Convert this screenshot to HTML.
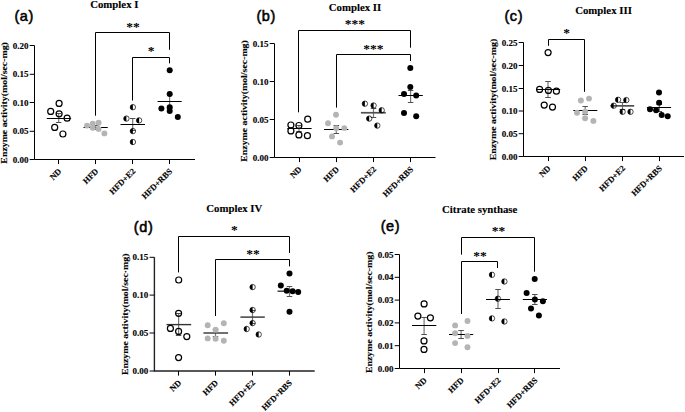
<!DOCTYPE html>
<html><head><meta charset="utf-8"><style>
html,body{margin:0;padding:0;background:#fff;}
body{width:685px;height:412px;overflow:hidden;}
svg{display:block;}
.tk{font-family:"Liberation Serif", serif;font-weight:bold;font-size:9px;text-anchor:end;stroke:#000;stroke-width:0.12px;}
.cat{font-family:"Liberation Serif", serif;font-weight:bold;font-size:8.5px;text-anchor:end;stroke:#000;stroke-width:0.15px;}
.ttl{font-family:"Liberation Serif", serif;font-weight:bold;font-size:10.8px;text-anchor:middle;stroke:#000;stroke-width:0.12px;}
.let{font-family:"Liberation Sans", sans-serif;font-weight:normal;font-size:14.5px;stroke:#000;stroke-width:0.55px;letter-spacing:0.6px;}
.yl{font-family:"Liberation Serif", serif;font-weight:bold;font-size:9.2px;text-anchor:middle;stroke:#000;stroke-width:0.12px;}
.st{font-family:"Liberation Serif", serif;font-weight:bold;font-size:13.5px;text-anchor:middle;}
</style></head><body>
<svg width="685" height="412" viewBox="0 0 685 412">
<rect width="685" height="412" fill="#fff"/>
<g><path d="M34.5 45.5V159.5H195" fill="none" stroke="#000" stroke-width="1"/>
<path d="M29.7 159.5H34.5" stroke="#000" stroke-width="1"/>
<text x="28.4" y="162.6" class="tk">0.00</text>
<path d="M29.7 131.3H34.5" stroke="#000" stroke-width="1"/>
<text x="28.4" y="134.4" class="tk">0.05</text>
<path d="M29.7 102.5H34.5" stroke="#000" stroke-width="1"/>
<text x="28.4" y="105.6" class="tk">0.10</text>
<path d="M29.7 74.3H34.5" stroke="#000" stroke-width="1"/>
<text x="28.4" y="77.4" class="tk">0.15</text>
<path d="M29.7 45.5H34.5" stroke="#000" stroke-width="1"/>
<text x="28.4" y="48.6" class="tk">0.20</text>
<path d="M58.5 159.5V164.1" stroke="#000" stroke-width="1"/>
<text transform="translate(61.9 171.8) rotate(-45)" class="cat">ND</text>
<path d="M95.5 159.5V164.1" stroke="#000" stroke-width="1"/>
<text transform="translate(98.9 171.8) rotate(-45)" class="cat">HFD</text>
<path d="M132.5 159.5V164.1" stroke="#000" stroke-width="1"/>
<text transform="translate(135.9 171.8) rotate(-45)" class="cat">HFD+E2</text>
<path d="M169.5 159.5V164.1" stroke="#000" stroke-width="1"/>
<text transform="translate(172.8 171.8) rotate(-45)" class="cat">HFD+RBS</text>
<text x="114.3" y="8.2" class="ttl">Complex I</text>
<text x="14.4" y="20.5" class="let">(a)</text>
<text transform="translate(6.9 102.9) rotate(-90) scale(1.07 1)" class="yl">Enzyme activity(mol/sec-mg)</text>
<path d="M95.5 115.7V32.5H169.5V49.8" fill="none" stroke="#000" stroke-width="1"/>
<text x="133" y="30.7" class="st">**</text>
<path d="M132.5 100.5V57.5H169.5V63.4" fill="none" stroke="#000" stroke-width="1"/>
<text x="151" y="54.9" class="st">*</text>
<path d="M58.7 113V122.3" stroke="#777" stroke-width="1.2" fill="none"/>
<path d="M55.95 113.5H61.45M55.95 122.5H61.45" stroke="#505050" stroke-width="1" fill="none"/>
<path d="M46.8 118.5H71.1" stroke="#000" stroke-width="1"/>
<circle cx="59.1" cy="103.4" r="3.0" fill="none" stroke="#000" stroke-width="1.2"/>
<circle cx="50.7" cy="111.4" r="3.0" fill="none" stroke="#000" stroke-width="1.2"/>
<circle cx="59.1" cy="113.8" r="3.0" fill="none" stroke="#000" stroke-width="1.2"/>
<circle cx="67.1" cy="118.2" r="3.0" fill="none" stroke="#000" stroke-width="1.2"/>
<circle cx="54.7" cy="127.4" r="3.0" fill="none" stroke="#000" stroke-width="1.2"/>
<circle cx="62.9" cy="134" r="3.0" fill="none" stroke="#000" stroke-width="1.2"/>
<path d="M95.7 125.5V129" stroke="#777" stroke-width="1.2" fill="none"/>
<path d="M92.95 125.5H98.45M92.95 129.5H98.45" stroke="#505050" stroke-width="1" fill="none"/>
<path d="M83.5 127.5H107.7" stroke="#000" stroke-width="1"/>
<circle cx="87" cy="125.6" r="2.95" fill="#b4b4b4"/>
<circle cx="92.7" cy="123.6" r="2.95" fill="#b4b4b4"/>
<circle cx="98.6" cy="122.8" r="2.95" fill="#b4b4b4"/>
<circle cx="92.7" cy="127.8" r="2.95" fill="#b4b4b4"/>
<circle cx="98.6" cy="128.9" r="2.95" fill="#b4b4b4"/>
<circle cx="104.4" cy="133.4" r="2.95" fill="#b4b4b4"/>
<path d="M132.7 118V130" stroke="#777" stroke-width="1.2" fill="none"/>
<path d="M129.95 118.5H135.45M129.95 130.5H135.45" stroke="#505050" stroke-width="1" fill="none"/>
<path d="M120.5 124.5H145" stroke="#000" stroke-width="1"/>
<circle cx="132.9" cy="107.2" r="2.7" fill="none" stroke="#000" stroke-width="0.7"/><path d="M132.9 104.5A2.7 2.7 0 0 0 132.9 109.9Z" fill="#000"/>
<circle cx="126.4" cy="118.6" r="2.7" fill="none" stroke="#000" stroke-width="0.7"/><path d="M126.4 115.9A2.7 2.7 0 0 0 126.4 121.3Z" fill="#000"/>
<circle cx="139.1" cy="120.4" r="2.7" fill="none" stroke="#000" stroke-width="0.7"/><path d="M139.1 117.7A2.7 2.7 0 0 0 139.1 123.1Z" fill="#000"/>
<circle cx="132.9" cy="131.1" r="2.7" fill="none" stroke="#000" stroke-width="0.7"/><path d="M132.9 128.4A2.7 2.7 0 0 0 132.9 133.8Z" fill="#000"/>
<circle cx="132.9" cy="142" r="2.7" fill="none" stroke="#000" stroke-width="0.7"/><path d="M132.9 139.3A2.7 2.7 0 0 0 132.9 144.7Z" fill="#000"/>
<path d="M169.6 94V108" stroke="#777" stroke-width="1.2" fill="none"/>
<path d="M166.85 94.5H172.35M166.85 108.5H172.35" stroke="#505050" stroke-width="1" fill="none"/>
<path d="M157.6 101.5H181.7" stroke="#000" stroke-width="1"/>
<circle cx="169.7" cy="70.3" r="3.0" fill="#000"/>
<circle cx="169.7" cy="93.9" r="3.0" fill="#000"/>
<circle cx="161.4" cy="108.5" r="3.0" fill="#000"/>
<circle cx="169.7" cy="107.2" r="3.0" fill="#000"/>
<circle cx="169.7" cy="111" r="3.0" fill="#000"/>
<circle cx="177.8" cy="116.9" r="3.0" fill="#000"/></g>
<g><path d="M274.5 43.5V157.5H435.5" fill="none" stroke="#000" stroke-width="1"/>
<path d="M269.7 157.5H274.5" stroke="#000" stroke-width="1"/>
<text x="268.4" y="160.6" class="tk">0.00</text>
<path d="M269.7 119.5H274.5" stroke="#000" stroke-width="1"/>
<text x="268.4" y="122.6" class="tk">0.05</text>
<path d="M269.7 81.5H274.5" stroke="#000" stroke-width="1"/>
<text x="268.4" y="84.6" class="tk">0.10</text>
<path d="M269.7 43.5H274.5" stroke="#000" stroke-width="1"/>
<text x="268.4" y="46.6" class="tk">0.15</text>
<path d="M299.5 157.5V162.1" stroke="#000" stroke-width="1"/>
<text transform="translate(302.2 169.8) rotate(-45)" class="cat">ND</text>
<path d="M336.5 157.5V162.1" stroke="#000" stroke-width="1"/>
<text transform="translate(339.5 169.8) rotate(-45)" class="cat">HFD</text>
<path d="M373.5 157.5V162.1" stroke="#000" stroke-width="1"/>
<text transform="translate(376.7 169.8) rotate(-45)" class="cat">HFD+E2</text>
<path d="M410.5 157.5V162.1" stroke="#000" stroke-width="1"/>
<text transform="translate(413.8 169.8) rotate(-45)" class="cat">HFD+RBS</text>
<text x="355" y="11.1" class="ttl">Complex II</text>
<text x="256.4" y="21.4" class="let">(b)</text>
<text transform="translate(247 100.95) rotate(-90) scale(1.07 1)" class="yl">Enzyme activity(mol/sec-mg)</text>
<path d="M298.5 112.3V30.5H410.5V47.7" fill="none" stroke="#000" stroke-width="1"/>
<text x="354.8" y="28.2" class="st">***</text>
<path d="M336.5 107.6V54.5H410.5V61" fill="none" stroke="#000" stroke-width="1"/>
<text x="373.3" y="52.5" class="st">***</text>
<path d="M299 125V131.5" stroke="#777" stroke-width="1.2" fill="none"/>
<path d="M296.25 125.5H301.75M296.25 131.5H301.75" stroke="#505050" stroke-width="1" fill="none"/>
<path d="M287.3 128.5H311.6" stroke="#000" stroke-width="1"/>
<circle cx="307.7" cy="119.2" r="3.0" fill="none" stroke="#000" stroke-width="1.2"/>
<circle cx="290.9" cy="125" r="3.0" fill="none" stroke="#000" stroke-width="1.2"/>
<circle cx="298.9" cy="125.5" r="3.0" fill="none" stroke="#000" stroke-width="1.2"/>
<circle cx="290.9" cy="130.9" r="3.0" fill="none" stroke="#000" stroke-width="1.2"/>
<circle cx="298.9" cy="134.9" r="3.0" fill="none" stroke="#000" stroke-width="1.2"/>
<circle cx="307.4" cy="135.7" r="3.0" fill="none" stroke="#000" stroke-width="1.2"/>
<path d="M336.3 125.5V133.2" stroke="#777" stroke-width="1.2" fill="none"/>
<path d="M333.55 125.5H339.05M333.55 133.5H339.05" stroke="#505050" stroke-width="1" fill="none"/>
<path d="M324.1 129.5H348.4" stroke="#000" stroke-width="1"/>
<circle cx="336" cy="114.8" r="2.95" fill="#b4b4b4"/>
<circle cx="328" cy="123.3" r="2.95" fill="#b4b4b4"/>
<circle cx="336.2" cy="128.2" r="2.95" fill="#b4b4b4"/>
<circle cx="344.3" cy="128.1" r="2.95" fill="#b4b4b4"/>
<circle cx="332" cy="136.4" r="2.95" fill="#b4b4b4"/>
<circle cx="340.1" cy="142.6" r="2.95" fill="#b4b4b4"/>
<path d="M373.5 108.4V117" stroke="#777" stroke-width="1.2" fill="none"/>
<path d="M370.75 108.5H376.25M370.75 117.5H376.25" stroke="#505050" stroke-width="1" fill="none"/>
<path d="M360.9 112.75H385.8" stroke="#505050" stroke-width="1.7"/>
<circle cx="364.9" cy="103.7" r="2.7" fill="none" stroke="#000" stroke-width="0.7"/><path d="M364.9 101A2.7 2.7 0 0 0 364.9 106.4Z" fill="#000"/>
<circle cx="373.6" cy="105.5" r="2.7" fill="none" stroke="#000" stroke-width="0.7"/><path d="M373.6 102.8A2.7 2.7 0 0 0 373.6 108.2Z" fill="#000"/>
<circle cx="381.7" cy="110.3" r="2.7" fill="none" stroke="#000" stroke-width="0.7"/><path d="M381.7 107.6A2.7 2.7 0 0 0 381.7 113Z" fill="#000"/>
<circle cx="369.2" cy="118.6" r="2.7" fill="none" stroke="#000" stroke-width="0.7"/><path d="M369.2 115.9A2.7 2.7 0 0 0 369.2 121.3Z" fill="#000"/>
<circle cx="377.3" cy="125.6" r="2.7" fill="none" stroke="#000" stroke-width="0.7"/><path d="M377.3 122.9A2.7 2.7 0 0 0 377.3 128.3Z" fill="#000"/>
<path d="M410.6 90.6V102.6" stroke="#777" stroke-width="1.2" fill="none"/>
<path d="M407.85 90.5H413.35M407.85 102.5H413.35" stroke="#505050" stroke-width="1" fill="none"/>
<path d="M398.5 95.5H422.8" stroke="#000" stroke-width="1"/>
<circle cx="410.3" cy="68.1" r="3.0" fill="#000"/>
<circle cx="410.3" cy="86.9" r="3.0" fill="#000"/>
<circle cx="404" cy="93.9" r="3.0" fill="#000"/>
<circle cx="416.2" cy="95.4" r="3.0" fill="#000"/>
<circle cx="404" cy="113.1" r="3.0" fill="#000"/>
<circle cx="416.2" cy="116.2" r="3.0" fill="#000"/></g>
<g><path d="M523.5 42.5V156.5H684" fill="none" stroke="#000" stroke-width="1"/>
<path d="M518.7 156.5H523.5" stroke="#000" stroke-width="1"/>
<text x="517.4" y="159.6" class="tk">0.00</text>
<path d="M518.7 133.7H523.5" stroke="#000" stroke-width="1"/>
<text x="517.4" y="136.8" class="tk">0.05</text>
<path d="M518.7 111H523.5" stroke="#000" stroke-width="1"/>
<text x="517.4" y="114.1" class="tk">0.10</text>
<path d="M518.7 88.5H523.5" stroke="#000" stroke-width="1"/>
<text x="517.4" y="91.6" class="tk">0.15</text>
<path d="M518.7 65.5H523.5" stroke="#000" stroke-width="1"/>
<text x="517.4" y="68.6" class="tk">0.20</text>
<path d="M518.7 42.5H523.5" stroke="#000" stroke-width="1"/>
<text x="517.4" y="45.6" class="tk">0.25</text>
<path d="M548.5 156.5V161.1" stroke="#000" stroke-width="1"/>
<text transform="translate(551.2 168.8) rotate(-45)" class="cat">ND</text>
<path d="M585.5 156.5V161.1" stroke="#000" stroke-width="1"/>
<text transform="translate(588.4 168.8) rotate(-45)" class="cat">HFD</text>
<path d="M622.5 156.5V161.1" stroke="#000" stroke-width="1"/>
<text transform="translate(625.7 168.8) rotate(-45)" class="cat">HFD+E2</text>
<path d="M659.5 156.5V161.1" stroke="#000" stroke-width="1"/>
<text transform="translate(662.5 168.8) rotate(-45)" class="cat">HFD+RBS</text>
<text x="603.5" y="14.2" class="ttl">Complex III</text>
<text x="504.4" y="21" class="let">(c)</text>
<text transform="translate(496.4 99.55) rotate(-90) scale(1.07 1)" class="yl">Enzyme activity(mol/sec-mg)</text>
<path d="M548.5 45.8V39.5H584.5V91.8" fill="none" stroke="#000" stroke-width="1"/>
<text x="566.7" y="37.1" class="st">*</text>
<path d="M548 81.1V97.3" stroke="#777" stroke-width="1.2" fill="none"/>
<path d="M545.25 81.5H550.75M545.25 97.5H550.75" stroke="#505050" stroke-width="1" fill="none"/>
<path d="M536.1 89.5H560.2" stroke="#000" stroke-width="1"/>
<circle cx="548.1" cy="52.6" r="3.0" fill="none" stroke="#000" stroke-width="1.2"/>
<circle cx="539.6" cy="89.4" r="3.0" fill="none" stroke="#000" stroke-width="1.2"/>
<circle cx="548.4" cy="90.4" r="3.0" fill="none" stroke="#000" stroke-width="1.2"/>
<circle cx="556.4" cy="91.2" r="3.0" fill="none" stroke="#000" stroke-width="1.2"/>
<circle cx="544.2" cy="105.1" r="3.0" fill="none" stroke="#000" stroke-width="1.2"/>
<circle cx="552.5" cy="107.1" r="3.0" fill="none" stroke="#000" stroke-width="1.2"/>
<path d="M585.2 106.7V114.3" stroke="#777" stroke-width="1.2" fill="none"/>
<path d="M582.45 106.5H587.95M582.45 114.5H587.95" stroke="#505050" stroke-width="1" fill="none"/>
<path d="M573.3 110.5H597.3" stroke="#000" stroke-width="1"/>
<circle cx="580.9" cy="100.5" r="2.95" fill="#b4b4b4"/>
<circle cx="589" cy="98.6" r="2.95" fill="#b4b4b4"/>
<circle cx="577" cy="112.8" r="2.95" fill="#b4b4b4"/>
<circle cx="585.1" cy="111.7" r="2.95" fill="#b4b4b4"/>
<circle cx="585.1" cy="118.3" r="2.95" fill="#b4b4b4"/>
<circle cx="593.4" cy="120.9" r="2.95" fill="#b4b4b4"/>
<path d="M622.5 102.5V109" stroke="#777" stroke-width="1.2" fill="none"/>
<path d="M619.75 102.5H625.25M619.75 109.5H625.25" stroke="#505050" stroke-width="1" fill="none"/>
<path d="M610.5 105.85H634.2" stroke="#505050" stroke-width="1.7"/>
<circle cx="618.1" cy="99.8" r="2.7" fill="none" stroke="#000" stroke-width="0.7"/><path d="M618.1 97.1A2.7 2.7 0 0 0 618.1 102.5Z" fill="#000"/>
<circle cx="626.3" cy="100.1" r="2.7" fill="none" stroke="#000" stroke-width="0.7"/><path d="M626.3 97.4A2.7 2.7 0 0 0 626.3 102.8Z" fill="#000"/>
<circle cx="613.7" cy="105.7" r="2.7" fill="none" stroke="#000" stroke-width="0.7"/><path d="M613.7 103A2.7 2.7 0 0 0 613.7 108.4Z" fill="#000"/>
<circle cx="622.6" cy="111.8" r="2.7" fill="none" stroke="#000" stroke-width="0.7"/><path d="M622.6 109.1A2.7 2.7 0 0 0 622.6 114.5Z" fill="#000"/>
<circle cx="630.5" cy="111.8" r="2.7" fill="none" stroke="#000" stroke-width="0.7"/><path d="M630.5 109.1A2.7 2.7 0 0 0 630.5 114.5Z" fill="#000"/>
<path d="M659.3 104V111.2" stroke="#777" stroke-width="1.2" fill="none"/>
<path d="M656.55 104.5H662.05M656.55 111.5H662.05" stroke="#505050" stroke-width="1" fill="none"/>
<path d="M646.9 107.5H671.1" stroke="#000" stroke-width="1"/>
<circle cx="659" cy="92.5" r="3.0" fill="#000"/>
<circle cx="659.1" cy="102.8" r="3.0" fill="#000"/>
<circle cx="650" cy="109.2" r="3.0" fill="#000"/>
<circle cx="656.1" cy="110.2" r="3.0" fill="#000"/>
<circle cx="661.7" cy="115" r="3.0" fill="#000"/>
<circle cx="667.7" cy="116.3" r="3.0" fill="#000"/></g>
<g><path d="M154.4 257.3V371H314.7" fill="none" stroke="#222" stroke-width="1.4"/>
<path d="M149.6 371H154.4" stroke="#000" stroke-width="1"/>
<text x="148.3" y="374.1" class="tk">0.00</text>
<path d="M149.6 333H154.4" stroke="#000" stroke-width="1"/>
<text x="148.3" y="336.1" class="tk">0.05</text>
<path d="M149.6 295.1H154.4" stroke="#000" stroke-width="1"/>
<text x="148.3" y="298.2" class="tk">0.10</text>
<path d="M149.6 257.3H154.4" stroke="#000" stroke-width="1"/>
<text x="148.3" y="260.4" class="tk">0.15</text>
<path d="M178.5 371V375.6" stroke="#000" stroke-width="1"/>
<text transform="translate(181.8 383.3) rotate(-45)" class="cat">ND</text>
<path d="M215.5 371V375.6" stroke="#000" stroke-width="1"/>
<text transform="translate(218.7 383.3) rotate(-45)" class="cat">HFD</text>
<path d="M252.5 371V375.6" stroke="#000" stroke-width="1"/>
<text transform="translate(255.7 383.3) rotate(-45)" class="cat">HFD+E2</text>
<path d="M289.5 371V375.6" stroke="#000" stroke-width="1"/>
<text transform="translate(292.7 383.3) rotate(-45)" class="cat">HFD+RBS</text>
<text x="234.3" y="211.6" class="ttl">Complex IV</text>
<text x="133.8" y="231.5" class="let">(d)</text>
<text transform="translate(127.9 314.3) rotate(-90) scale(1.07 1)" class="yl">Enzyme activity(mol/sec·mg)</text>
<path d="M178.5 272.4V236.5H289.5V253" fill="none" stroke="#000" stroke-width="1"/>
<text x="234.4" y="234" class="st">*</text>
<path d="M215.5 316V259.5H289.5V266.4" fill="none" stroke="#000" stroke-width="1"/>
<text x="253" y="258.1" class="st">**</text>
<path d="M178.6 313V335.3" stroke="#777" stroke-width="1.2" fill="none"/>
<path d="M175.85 313.5H181.35M175.85 335.5H181.35" stroke="#505050" stroke-width="1" fill="none"/>
<path d="M166.5 324.6H191.2" stroke="#333" stroke-width="1.4"/>
<circle cx="178.7" cy="280" r="3.0" fill="none" stroke="#000" stroke-width="1.2"/>
<circle cx="178.6" cy="313.3" r="3.0" fill="none" stroke="#000" stroke-width="1.2"/>
<circle cx="170.4" cy="328.4" r="3.0" fill="none" stroke="#000" stroke-width="1.2"/>
<circle cx="178.6" cy="331.4" r="3.0" fill="none" stroke="#000" stroke-width="1.2"/>
<circle cx="186.8" cy="336.6" r="3.0" fill="none" stroke="#000" stroke-width="1.2"/>
<circle cx="178.6" cy="357.6" r="3.0" fill="none" stroke="#000" stroke-width="1.2"/>
<path d="M215.5 329V336" stroke="#777" stroke-width="1.2" fill="none"/>
<path d="M212.75 329.5H218.25M212.75 336.5H218.25" stroke="#505050" stroke-width="1" fill="none"/>
<path d="M203.4 333H228.1" stroke="#333" stroke-width="1.4"/>
<circle cx="207.7" cy="325.2" r="2.95" fill="#b4b4b4"/>
<circle cx="223.8" cy="323.3" r="2.95" fill="#b4b4b4"/>
<circle cx="215.6" cy="329.7" r="2.95" fill="#b4b4b4"/>
<circle cx="207.7" cy="338.4" r="2.95" fill="#b4b4b4"/>
<circle cx="215.6" cy="338.8" r="2.95" fill="#b4b4b4"/>
<circle cx="223.8" cy="340.8" r="2.95" fill="#b4b4b4"/>
<path d="M252.5 310V323" stroke="#777" stroke-width="1.2" fill="none"/>
<path d="M249.75 310.5H255.25M249.75 323.5H255.25" stroke="#505050" stroke-width="1" fill="none"/>
<path d="M240.4 317.1H264.8" stroke="#333" stroke-width="1.4"/>
<circle cx="252.6" cy="287.1" r="2.7" fill="none" stroke="#000" stroke-width="0.7"/><path d="M252.6 284.4A2.7 2.7 0 0 0 252.6 289.8Z" fill="#000"/>
<circle cx="252.6" cy="310" r="2.7" fill="none" stroke="#000" stroke-width="0.7"/><path d="M252.6 307.3A2.7 2.7 0 0 0 252.6 312.7Z" fill="#000"/>
<circle cx="252.6" cy="323.1" r="2.7" fill="none" stroke="#000" stroke-width="0.7"/><path d="M252.6 320.4A2.7 2.7 0 0 0 252.6 325.8Z" fill="#000"/>
<circle cx="246.7" cy="329" r="2.7" fill="none" stroke="#000" stroke-width="0.7"/><path d="M246.7 326.3A2.7 2.7 0 0 0 246.7 331.7Z" fill="#000"/>
<circle cx="258.7" cy="334.5" r="2.7" fill="none" stroke="#000" stroke-width="0.7"/><path d="M258.7 331.8A2.7 2.7 0 0 0 258.7 337.2Z" fill="#000"/>
<path d="M289.5 286.3V296" stroke="#777" stroke-width="1.2" fill="none"/>
<path d="M286.75 286.5H292.25M286.75 296.5H292.25" stroke="#505050" stroke-width="1" fill="none"/>
<path d="M277.5 291.2H300.8" stroke="#333" stroke-width="1.4"/>
<circle cx="289.5" cy="273.6" r="3.0" fill="#000"/>
<circle cx="280.8" cy="285.6" r="3.0" fill="#000"/>
<circle cx="286.7" cy="290.8" r="3.0" fill="#000"/>
<circle cx="292.6" cy="291.2" r="3.0" fill="#000"/>
<circle cx="298.2" cy="292.1" r="3.0" fill="#000"/>
<circle cx="289.5" cy="311.8" r="3.0" fill="#000"/></g>
<g><path d="M399.5 254.5V368.5H560" fill="none" stroke="#000" stroke-width="1"/>
<path d="M394.7 368.5H399.5" stroke="#000" stroke-width="1"/>
<text x="393.4" y="371.6" class="tk">0.00</text>
<path d="M394.7 345.7H399.5" stroke="#000" stroke-width="1"/>
<text x="393.4" y="348.8" class="tk">0.01</text>
<path d="M394.7 322.9H399.5" stroke="#000" stroke-width="1"/>
<text x="393.4" y="326" class="tk">0.02</text>
<path d="M394.7 300.1H399.5" stroke="#000" stroke-width="1"/>
<text x="393.4" y="303.2" class="tk">0.03</text>
<path d="M394.7 277.3H399.5" stroke="#000" stroke-width="1"/>
<text x="393.4" y="280.4" class="tk">0.04</text>
<path d="M394.7 254.5H399.5" stroke="#000" stroke-width="1"/>
<text x="393.4" y="257.6" class="tk">0.05</text>
<path d="M424.5 368.5V373.1" stroke="#000" stroke-width="1"/>
<text transform="translate(427.3 380.8) rotate(-45)" class="cat">ND</text>
<path d="M461.5 368.5V373.1" stroke="#000" stroke-width="1"/>
<text transform="translate(464.3 380.8) rotate(-45)" class="cat">HFD</text>
<path d="M498.5 368.5V373.1" stroke="#000" stroke-width="1"/>
<text transform="translate(501.2 380.8) rotate(-45)" class="cat">HFD+E2</text>
<path d="M534.5 368.5V373.1" stroke="#000" stroke-width="1"/>
<text transform="translate(538 380.8) rotate(-45)" class="cat">HFD+RBS</text>
<text x="479.7" y="212.6" class="ttl">Citrate synthase</text>
<text x="380.7" y="231" class="let">(e)</text>
<text transform="translate(372.4 312.3) rotate(-90) scale(1.07 1)" class="yl">Enzyme activity(mol/sec-mg)</text>
<path d="M461.5 254.7V237.5H534.5V271.7" fill="none" stroke="#000" stroke-width="1"/>
<text x="498.5" y="235.2" class="st">**</text>
<path d="M461.5 314V261.5H497.5V268" fill="none" stroke="#000" stroke-width="1"/>
<text x="480" y="259.5" class="st">**</text>
<path d="M424.1 317.3V334.3" stroke="#777" stroke-width="1.2" fill="none"/>
<path d="M421.35 317.5H426.85M421.35 334.5H426.85" stroke="#505050" stroke-width="1" fill="none"/>
<path d="M412 325.5H436.3" stroke="#000" stroke-width="1"/>
<circle cx="424.1" cy="303.9" r="3.0" fill="none" stroke="#000" stroke-width="1.2"/>
<circle cx="417.9" cy="316.1" r="3.0" fill="none" stroke="#000" stroke-width="1.2"/>
<circle cx="430.4" cy="317.8" r="3.0" fill="none" stroke="#000" stroke-width="1.2"/>
<circle cx="424" cy="340.9" r="3.0" fill="none" stroke="#000" stroke-width="1.2"/>
<circle cx="424" cy="349.4" r="3.0" fill="none" stroke="#000" stroke-width="1.2"/>
<path d="M461.1 330.4V338.5" stroke="#777" stroke-width="1.2" fill="none"/>
<path d="M458.35 330.5H463.85M458.35 338.5H463.85" stroke="#505050" stroke-width="1" fill="none"/>
<path d="M449 334.5H473.2" stroke="#000" stroke-width="1"/>
<circle cx="455.1" cy="325.4" r="2.95" fill="#b4b4b4"/>
<circle cx="467.5" cy="321" r="2.95" fill="#b4b4b4"/>
<circle cx="455.1" cy="333.3" r="2.95" fill="#b4b4b4"/>
<circle cx="467.5" cy="335.9" r="2.95" fill="#b4b4b4"/>
<circle cx="455.1" cy="343.1" r="2.95" fill="#b4b4b4"/>
<circle cx="467.5" cy="347.2" r="2.95" fill="#b4b4b4"/>
<path d="M498 289.9V308.3" stroke="#777" stroke-width="1.2" fill="none"/>
<path d="M495.25 289.5H500.75M495.25 308.5H500.75" stroke="#505050" stroke-width="1" fill="none"/>
<path d="M486 299.5H509.9" stroke="#000" stroke-width="1"/>
<circle cx="492" cy="274.8" r="2.7" fill="none" stroke="#000" stroke-width="0.7"/><path d="M492 272.1A2.7 2.7 0 0 0 492 277.5Z" fill="#000"/>
<circle cx="504.4" cy="281.5" r="2.7" fill="none" stroke="#000" stroke-width="0.7"/><path d="M504.4 278.8A2.7 2.7 0 0 0 504.4 284.2Z" fill="#000"/>
<circle cx="497.9" cy="298.7" r="2.7" fill="none" stroke="#000" stroke-width="0.7"/><path d="M497.9 296A2.7 2.7 0 0 0 497.9 301.4Z" fill="#000"/>
<circle cx="492" cy="318.4" r="2.7" fill="none" stroke="#000" stroke-width="0.7"/><path d="M492 315.7A2.7 2.7 0 0 0 492 321.1Z" fill="#000"/>
<circle cx="504.4" cy="321.5" r="2.7" fill="none" stroke="#000" stroke-width="0.7"/><path d="M504.4 318.8A2.7 2.7 0 0 0 504.4 324.2Z" fill="#000"/>
<path d="M534.8 294.2V304.5" stroke="#777" stroke-width="1.2" fill="none"/>
<path d="M532.05 294.5H537.55M532.05 304.5H537.55" stroke="#505050" stroke-width="1" fill="none"/>
<path d="M522.8 299.5H547" stroke="#000" stroke-width="1"/>
<circle cx="534.7" cy="279" r="3.0" fill="#000"/>
<circle cx="526.6" cy="293.1" r="3.0" fill="#000"/>
<circle cx="534.9" cy="299.6" r="3.0" fill="#000"/>
<circle cx="542.9" cy="301.3" r="3.0" fill="#000"/>
<circle cx="531" cy="308.4" r="3.0" fill="#000"/>
<circle cx="538.9" cy="315.4" r="3.0" fill="#000"/></g>
</svg>
</body></html>
